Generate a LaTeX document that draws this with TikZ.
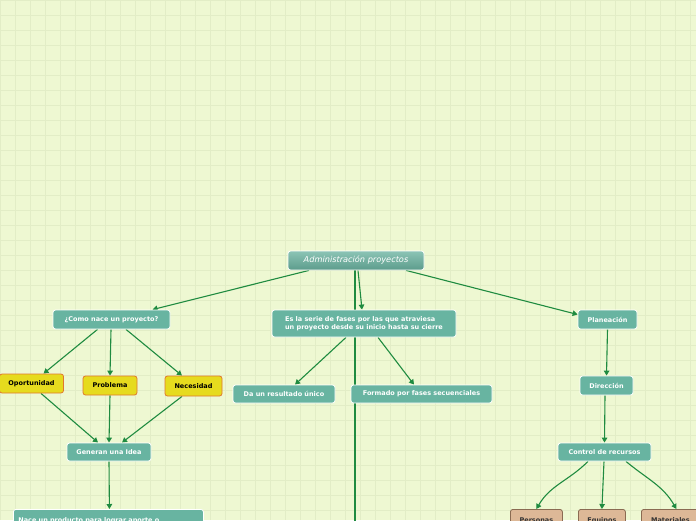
\documentclass[tikz,border=0pt]{standalone}
\usepackage{fontspec}
\setmainfont{DejaVu Sans}
\usetikzlibrary{arrows.meta,calc}
\pgfdeclarelayer{gridlayer}
\pgfdeclarelayer{linelayer}
\pgfsetlayers{gridlayer,linelayer,main}
\definecolor{bg}{HTML}{EEF8D2}
\definecolor{gridc}{HTML}{E2EDC6}
\definecolor{teal}{HTML}{68B4A1}
\definecolor{rootA}{HTML}{8CC4B5}
\definecolor{rootB}{HTML}{5C9C8C}
\definecolor{conn}{HTML}{1F8B40}
\definecolor{yel}{HTML}{E6DB1E}
\definecolor{yelb}{HTML}{E0782E}
\definecolor{tan}{HTML}{DDB897}
\definecolor{tanb}{HTML}{8A6B52}
\tikzset{
  boxfont/.style={font=\bfseries\fontsize{6.5}{7.9}\selectfont},
  topic/.style={draw=white, line width=0.8pt, fill=teal, rounded corners=2.5pt,
    text=white, boxfont, inner sep=0pt, align=center},
  yellowbox/.style={draw=yelb, line width=0.8pt, fill=yel, rounded corners=2.5pt,
    text=black, boxfont, inner sep=0pt, align=center},
  tanbox/.style={draw=tanb, line width=0.8pt, fill=tan, rounded corners=2.5pt,
    text=black!80, boxfont, inner sep=0pt, align=center},
  rootbox/.style={draw=white, line width=0.8pt, top color=rootA, bottom color=rootB, rounded corners=2.5pt,
    text=white, font=\itshape\fontsize{8.2}{9.5}\selectfont, inner sep=0pt},
  link/.style={draw=conn, line width=1.1pt, -{Triangle[length=5pt,width=5.5pt]}},
  plainlink/.style={draw=conn, line width=1.1pt},
}
\begin{document}
\begin{tikzpicture}[x=1pt,y=-1pt]
\useasboundingbox (0,0) rectangle (696,520);
\clip (0,0) rectangle (696,520);
\begin{pgfonlayer}{gridlayer}
\fill[bg] (0,0) rectangle (696,520);
\foreach \i in {0,15,...,705} {\draw[gridc, line width=0.5pt] (\i,0) -- (\i,520);}
\foreach \j in {0,15,...,525} {\draw[gridc, line width=0.5pt] (0,\j) -- (696,\j);}
\end{pgfonlayer}

% nodes
\node[rootbox, minimum width=136, minimum height=19] (root) at (356,260.5) {Administración proyectos};
\node[topic, minimum width=117, minimum height=19] (como) at (111.5,319.5) {¿Como nace un proyecto?};
\node[topic, minimum width=184, minimum height=27, align=left] (serie) at (364,323.5) {Es la serie de fases por las que atraviesa\\un proyecto desde su inicio hasta su cierre};
\node[topic, minimum width=59, minimum height=19] (plan) at (607.5,319.5) {Planeación};
\node[yellowbox, minimum width=64, minimum height=19] (oport) at (31.5,383.5) {Oportunidad};
\node[yellowbox, minimum width=54, minimum height=19] (prob) at (110,385.5) {Problema};
\node[yellowbox, minimum width=57, minimum height=20] (nec) at (193.5,386) {Necesidad};
\node[topic, minimum width=102, minimum height=18] (unico) at (284,394) {Da un resultado único};
\node[topic, minimum width=141, minimum height=18] (fases) at (421.5,394) {Formado por fases secuenciales};
\node[topic, minimum width=53, minimum height=19] (dir) at (606.5,385.5) {Dirección};
\node[topic, minimum width=84, minimum height=18] (idea) at (109,452) {Generan una Idea};
\node[topic, minimum width=93, minimum height=18] (ctrl) at (604.5,452) {Control de recursos};
\node[topic, minimum width=190, minimum height=22, anchor=north west, align=left, text width=180] (nace) at (13,509) {Nace un producto para lograr aporte o};
\node[tanbox, minimum width=52, minimum height=22, anchor=north west] (pers) at (510,509) {Personas};
\node[tanbox, minimum width=47, minimum height=22, anchor=north west] (equi) at (578,509) {Equipos};
\node[tanbox, minimum width=58, minimum height=22, anchor=north west] (mat) at (641,509) {Materiales};
\coordinate (down) at (355,540);

% connectors
\begin{pgfonlayer}{linelayer}
\draw[plainlink] ($(root.south)+(-1,0)$) -- (down);
\draw[link] ($(root.south)+(-47,0)$) -- ($(como.north)+(41,0)$);
\draw[link] ($(root.south)+(2,0)$) -- ($(serie.north)+(-2,0)$);
\draw[link] ($(root.south)+(50,0)$) -- ($(plan.west)+(0,-5)$);
\draw[link] ($(como.south)+(-14,0)$) -- ($(oport.north)+(12,0)$);
\draw[link] ($(como.south)+(-0.5,0)$) -- (prob.north);
\draw[link] ($(como.south)+(14.5,0)$) -- ($(nec.north)+(-11.5,0)$);
\draw[link] ($(oport.south)+(9.5,0)$) -- ($(idea.north)+(-11,0)$);
\draw[link] (prob.south) -- (idea.north);
\draw[link] ($(nec.south)+(-11.5,0)$) -- ($(idea.north)+(13,0)$);
\draw[link] (idea.south) -- ($(nace.north)+(1,0)$);
\draw[link] ($(serie.south)+(-18,0)$) -- ($(unico.north)+(11,0)$);
\draw[link] ($(serie.south)+(14,0)$) -- ($(fases.north)+(-7.5,0)$);
\draw[link] (plan.south) -- (dir.north);
\draw[link] ($(dir.south)+(-1.5,0)$) -- (ctrl.north);
\draw[link] ($(ctrl.south)+(-16.5,0)$) to[out=-135,in=60] (pers.north);
\draw[link] ($(ctrl.south)+(-0.5,0)$) -- (equi.north);
\draw[link] ($(ctrl.south)+(21.5,0)$) to[out=-40,in=120] ($(mat.north)+(6,0)$);
\end{pgfonlayer}
\end{tikzpicture}
\end{document}
